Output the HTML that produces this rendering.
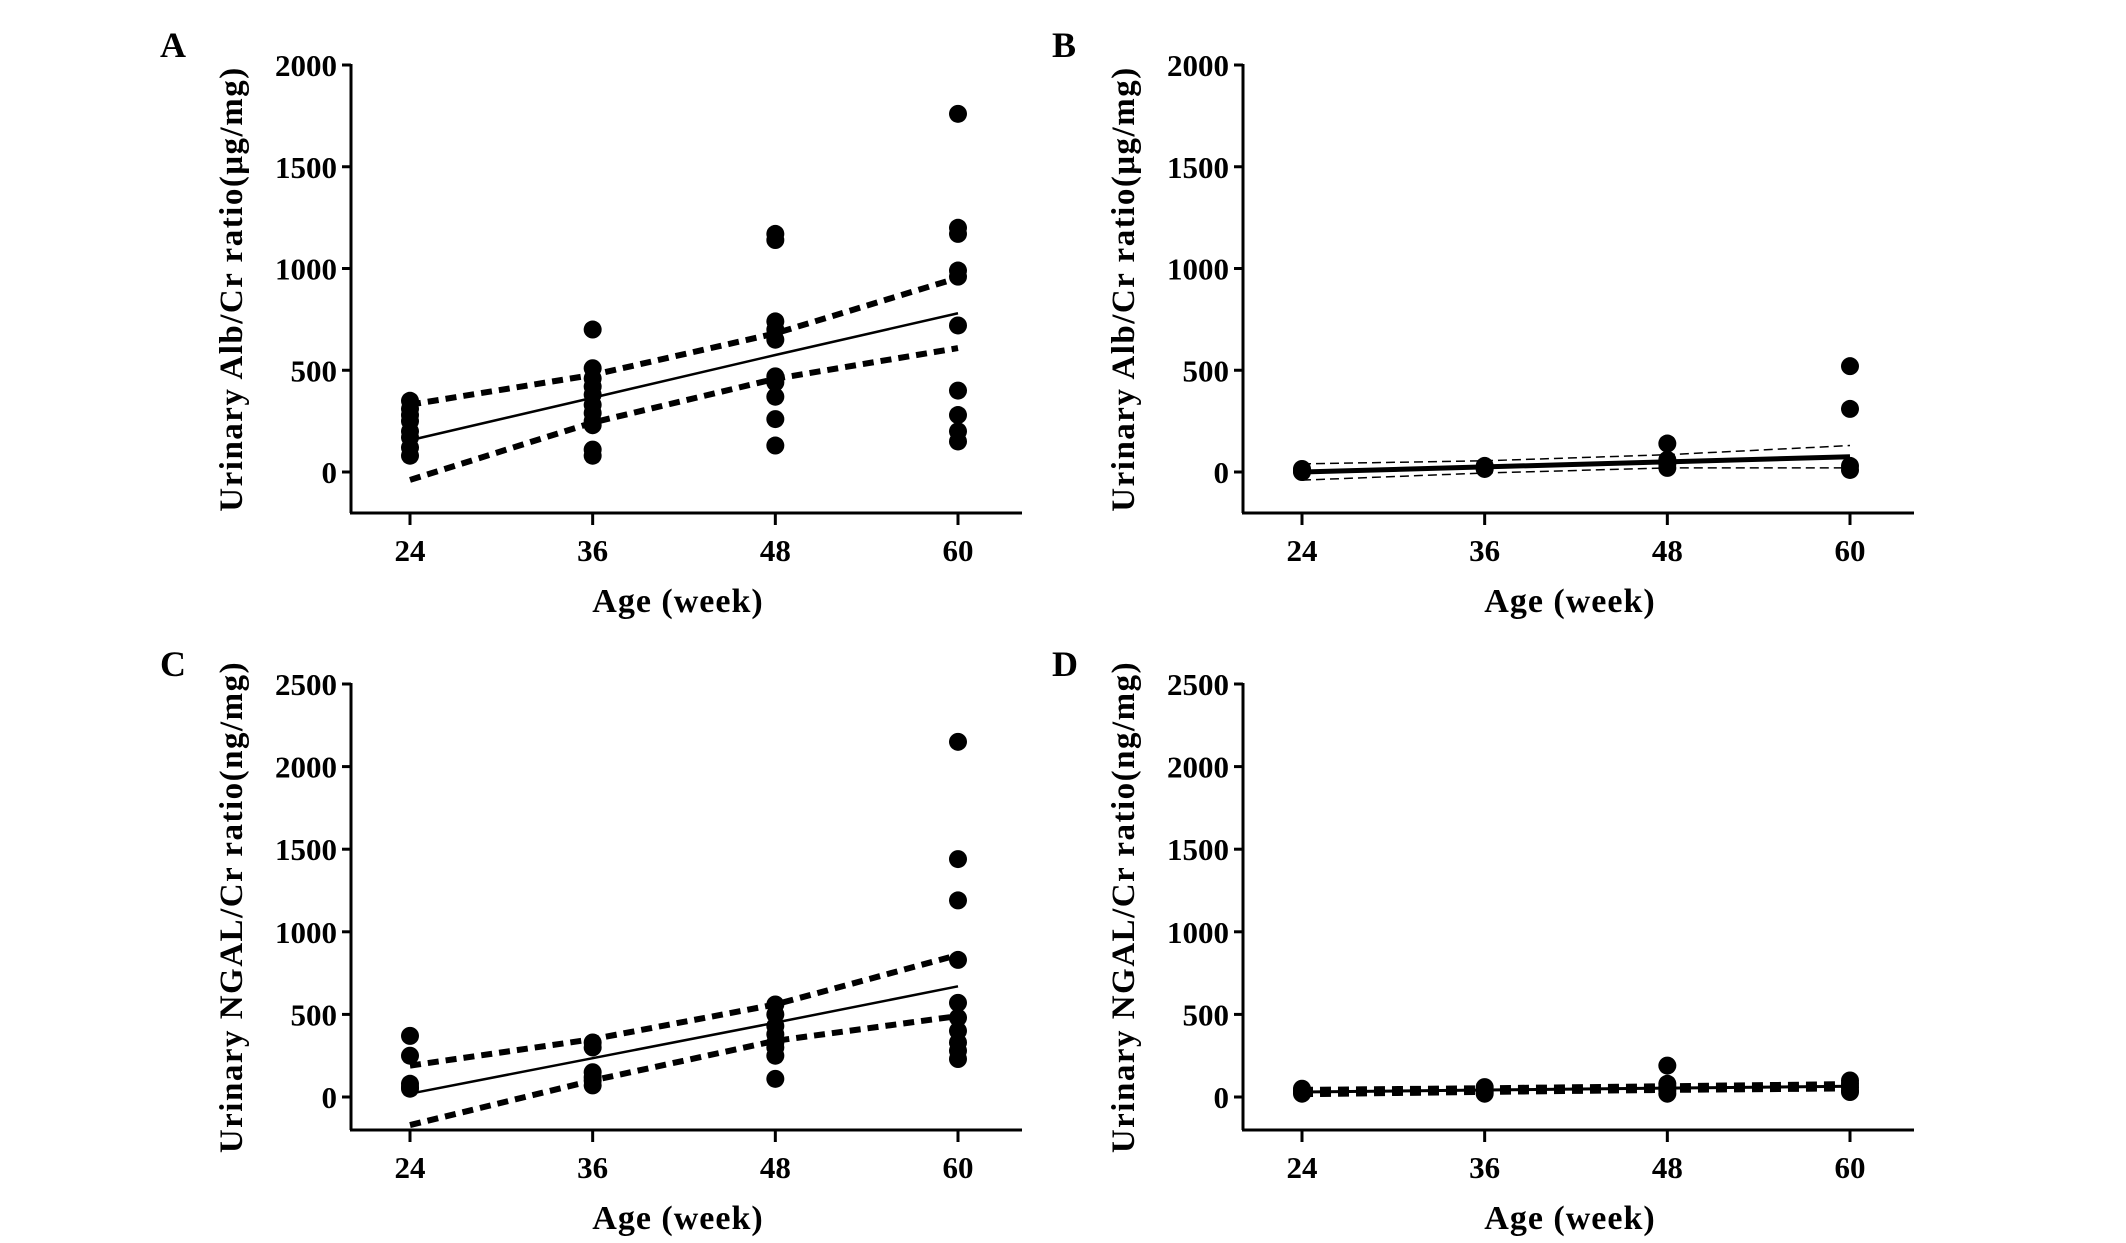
<!DOCTYPE html>
<html><head><meta charset="utf-8"><style>
html,body{margin:0;padding:0;background:#fff;}
svg{display:block;}
text{font-family:"Liberation Serif",serif;font-weight:bold;fill:#000;}
</style></head><body>
<svg id="fig" width="2126" height="1243" viewBox="0 0 2126 1243" xmlns="http://www.w3.org/2000/svg"></svg>
<script>
const weeks = [24, 36, 48, 60];
// Panel A: Alb/Cr
const aPts24 = [350, 310, 280, 250, 200, 170, 120, 80];
const aPts36 = [700, 510, 460, 420, 380, 330, 290, 250, 230, 110, 80];
const aPts48 = [1170, 1140, 740, 700, 650, 470, 440, 370, 260, 130];
const aPts60 = [1760, 1200, 1170, 990, 960, 720, 400, 280, 200, 150];
const aFit = [156, 365, 575, 780];
const aUpper = [331, 477, 681, 954];
const aLower = [-39, 243, 458, 609];
// Panel B
const bPts24 = [15, 10, 5, 0];
const bPts36 = [30, 20, 15];
const bPts48 = [140, 60, 40, 20];
const bPts60 = [520, 310, 30, 10];
const bFit = [0, 25, 50, 75];
const bUpper = [40, 55, 85, 130];
const bLower = [-40, -5, 20, 20];
// Panel C: NGAL/Cr
const cPts24 = [370, 250, 80, 60, 50];
const cPts36 = [330, 300, 150, 120, 100, 70];
const cPts48 = [560, 500, 430, 380, 330, 300, 250, 110];
const cPts60 = [2150, 1440, 1190, 830, 570, 480, 400, 330, 280, 230];
const cFit = [20, 235, 450, 670];
const cUpper = [190, 350, 560, 860];
const cLower = [-170, 100, 340, 490];
// Panel D
const dPts24 = [50, 30, 20, 40];
const dPts36 = [60, 40, 20, 30];
const dPts48 = [190, 80, 60, 40, 20];
const dPts60 = [100, 80, 60, 40, 30];
const dFit = [30, 42, 54, 65];
const dUpper = [40, 50, 62, 75];
const dLower = [20, 34, 46, 55];

const yTicksTop = [0, 500, 1000, 1500, 2000];
const yTicksBot = [0, 500, 1000, 1500, 2000, 2500];
const xTickLabels = ["24", "36", "48", "60"];

const NS = "http://www.w3.org/2000/svg";
const svg = document.getElementById("fig");
function mk(tag, attrs, parent) {
  const e = document.createElementNS(NS, tag);
  for (const k in attrs) e.setAttribute(k, attrs[k]);
  (parent || svg).appendChild(e);
  return e;
}

const panels = [
  {letter:"A", ox:0, yTop:65, y0:472, axisY:513, vmax:2000, ticks:yTicksTop, title:"Urinary Alb/Cr ratio(\u03bcg/mg)",
   pts:[aPts24,aPts36,aPts48,aPts60], fit:aFit, up:aUpper, lo:aLower, fitW:2.5, ciW:6, ciDash:"11,7"},
  {letter:"B", ox:892, yTop:65, y0:472, axisY:513, vmax:2000, ticks:yTicksTop, title:"Urinary Alb/Cr ratio(\u03bcg/mg)",
   pts:[bPts24,bPts36,bPts48,bPts60], fit:bFit, up:bUpper, lo:bLower, fitW:5, ciW:1.5, ciDash:"9,5"},
  {letter:"C", ox:0, yTop:684, y0:1097, axisY:1130, vmax:2500, ticks:yTicksBot, title:"Urinary NGAL/Cr ratio(ng/mg)",
   pts:[cPts24,cPts36,cPts48,cPts60], fit:cFit, up:cUpper, lo:cLower, fitW:2.5, ciW:6, ciDash:"11,7"},
  {letter:"D", ox:892, yTop:684, y0:1097, axisY:1130, vmax:2500, ticks:yTicksBot, title:"Urinary NGAL/Cr ratio(ng/mg)",
   pts:[dPts24,dPts36,dPts48,dPts60], fit:dFit, up:dUpper, lo:dLower, fitW:3, ciW:7, ciDash:"11,7"}
];

panels.forEach(p => {
  const g = mk("g", {});
  
  
  const axX = 351 + p.ox, axR = 1022 + p.ox;
  const xs = w => 410 + p.ox + (w - 24) * (548 / 36);
  const ys = v => p.y0 - v * (p.y0 - p.yTop) / p.vmax;

  const lt = mk("text", {x:160 + p.ox, y:p.yTop - 8, "font-size":36}, g);
  lt.textContent = p.letter;
  
  

  const ya = mk("line", {x1:axX, y1:p.yTop - 1, x2:axX, y2:p.axisY, stroke:"#000", "stroke-width":3}, g);
  
  
  const xa = mk("line", {x1:axX - 1, y1:p.axisY, x2:axR, y2:p.axisY, stroke:"#000", "stroke-width":3}, g);
  
  

  p.ticks.forEach(t => {
    const y = ys(t);
    mk("line", {x1:axX - 9, y1:y, x2:axX, y2:y, stroke:"#000", "stroke-width":3}, g);
    const tx = mk("text", {x:axX - 14, y:y + 11, "font-size":31, "text-anchor":"end"}, g);
    tx.textContent = t;
    
    
  });
  weeks.forEach((w, i) => {
    const x = xs(w);
    mk("line", {x1:x, y1:p.axisY, x2:x, y2:p.axisY + 12, stroke:"#000", "stroke-width":3}, g);
    const tx = mk("text", {x:x, y:p.axisY + 48, "font-size":31, "text-anchor":"middle"}, g);
    tx.textContent = xTickLabels[i];
    
    
  });
  const xt = mk("text", {x:678 + p.ox, y:p.axisY + 99, "font-size":34, "text-anchor":"middle", "letter-spacing":"1"}, g);
  xt.textContent = "Age (week)";
  
  
  const cy = (p.yTop + p.axisY) / 2;
  const yt = mk("text", {x:0, y:0, "font-size":33, "text-anchor":"middle", "letter-spacing":"1.5",
    transform:"translate(" + (242 + p.ox) + "," + cy + ") rotate(-90)"}, g);
  yt.textContent = p.title;
  
  

  p.pts.forEach((arr, i) => {
    arr.forEach(v => {
      const c = mk("ellipse", {cx:xs(weeks[i]), cy:ys(v), rx:9, ry:9, fill:"#000"}, g);
      
      
    });
  });
  const line = arr => weeks.map((w, i) => xs(w) + "," + ys(arr[i])).join(" ");
  const up = mk("polyline", {points:line(p.up), fill:"none", stroke:"#000", "stroke-width":p.ciW, "stroke-dasharray":p.ciDash}, g);
  
  
  const lo = mk("polyline", {points:line(p.lo), fill:"none", stroke:"#000", "stroke-width":p.ciW, "stroke-dasharray":p.ciDash}, g);
  
  
  const fit = mk("polyline", {points:line(p.fit), fill:"none", stroke:"#000", "stroke-width":p.fitW}, g);
  
  
});
</script>
</body></html>
